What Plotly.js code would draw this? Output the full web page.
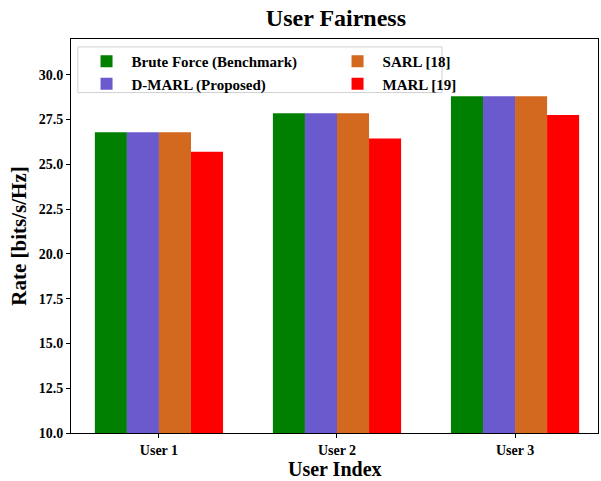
<!DOCTYPE html>
<html>
<head>
<meta charset="utf-8">
<script src="https://cdn.plot.ly/plotly-3.0.1.min.js"></script>
<style>html,body{margin:0;padding:0;background:#fff;}#chart{width:601px;height:481px;}</style>
</head>
<body>
<div id="chart"></div>
<script>
var categories = ["User 1", "User 2", "User 3"];
var seriesNames = ["Brute Force (Benchmark)", "D-MARL (Proposed)", "SARL [18]", "MARL [19]"];
var bruteForce = [26.8, 27.85, 28.8];
var dmarl = [26.8, 27.85, 28.8];
var sarl = [26.8, 27.85, 28.8];
var marl = [25.7, 26.45, 27.75];
var colors = ["#008000", "#6a5acd", "#d2691e", "#ff0000"];
var legendRanks = [1, 3, 2, 4];
var yTicks = [10.0, 12.5, 15.0, 17.5, 20.0, 22.5, 25.0, 27.5, 30.0];

var font = "Liberation Serif, Times New Roman, serif";
var values = [bruteForce, dmarl, sarl, marl];
var traces = values.map(function (v, i) {
  return {
    type: "bar", x: categories, y: v, name: "<b>" + seriesNames[i] + "</b>",
    marker: {color: colors[i], line: {width: 0}}, legendrank: legendRanks[i]
  };
});

var layout = {
  width: 601, height: 481,
  margin: {l: 71, r: 3, t: 39, b: 48},
  paper_bgcolor: "#fff", plot_bgcolor: "#fff",
  barmode: "group", bargap: 0.28, bargroupgap: 0,
  title: {text: "<b>User Fairness</b>", font: {family: font, size: 24, color: "#000"}, x: 0.559, xanchor: "center", y: 0.963, yanchor: "middle"},
  xaxis: {
    automargin: false,
    range: [-0.494, 2.466],
    tickvals: categories, ticktext: categories.map(function (c) { return "<b>" + c + "</b>"; }),
    showline: true, mirror: true, linecolor: "#000", linewidth: 1,
    ticks: "outside", ticklen: 4, tickcolor: "#000",
    tickfont: {family: font, size: 14, color: "#000"},
    showgrid: false, zeroline: false
  },
  yaxis: {
    title: {text: "<b>Rate [bits/s/Hz]</b>", font: {family: font, size: 21, color: "#000"}, standoff: 6},
    automargin: false,
    range: [10, 32],
    tickvals: yTicks, ticktext: yTicks.map(function (t) { return "<b>" + t.toFixed(1) + "</b>"; }),
    showline: true, mirror: true, linecolor: "#000", linewidth: 1,
    ticks: "outside", ticklen: 4, tickcolor: "#000",
    tickfont: {family: font, size: 14, color: "#000"},
    showgrid: false, zeroline: false
  },
  annotations: [{
    text: "<b>User Index</b>", xref: "paper", yref: "paper", x: 0.5, y: -0.0926,
    xanchor: "center", yanchor: "middle", showarrow: false, borderpad: 0,
    font: {family: font, size: 20, color: "#000"}
  }],
  showlegend: true,
  legend: {
    orientation: "h", x: 0.02, xanchor: "left", y: 0.985, yanchor: "top",
    entrywidth: 196, entrywidthmode: "pixels",
    bgcolor: "rgba(0,0,0,0)", borderwidth: 0,
    font: {family: font, size: 15, color: "#000"},
    itemwidth: 40, tracegroupgap: 0
  },
  shapes: [{
    type: "rect", xref: "paper", yref: "paper",
    x0: 0.013, x1: 0.704, y0: 0.864, y1: 0.98,
    line: {color: "#d0d0d0", width: 1}, fillcolor: "rgba(255,255,255,0.8)", layer: "below"
  }]
};

Plotly.newPlot("chart", traces, layout, {displayModeBar: false, staticPlot: true});
</script>
</body>
</html>
